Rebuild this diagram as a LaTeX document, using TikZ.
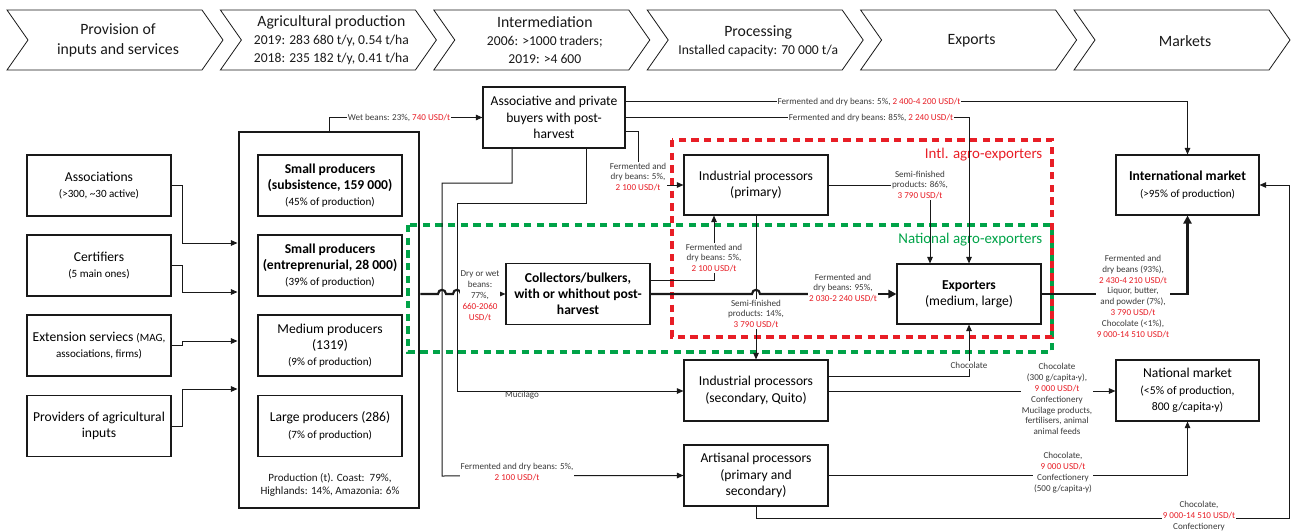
\documentclass[tikz,border=0pt]{standalone}
\usepackage{fontspec}
\setmainfont{Carlito}
\usetikzlibrary{arrows.meta,calc}
\definecolor{lred}{RGB}{232,30,38}
\definecolor{lgreen}{RGB}{0,163,72}
\definecolor{ink}{RGB}{25,25,25}
\newcommand{\subf}{\fontsize{8.3}{10}\selectfont}
\newcommand{\hsubf}{\fontsize{10.2}{13.5}\selectfont}
\newcommand{\rd}[1]{\textcolor{lred}{#1}}
\newcommand{\chevron}[1]{\draw[chev] (#1,10) -- ++(195,0) -- ++(21,30) -- ++(-21,30) -- ++(-195,0) -- ++(21,-30) -- cycle;}
\begin{document}
\begin{tikzpicture}[x=0.75pt,y=-0.75pt,
  box/.style={draw=ink, line width=0.8pt, align=center, minimum width=108pt, minimum height=45.75pt, inner sep=0pt, font=\fontsize{10.2}{12.2}\selectfont},
  bigbox/.style={draw=ink, line width=2.2pt, minimum width=135pt, minimum height=282pt, inner sep=0pt},
  lbl/.style={font=\fontsize{6.8}{8.2}\selectfont, align=center, fill=white, inner sep=0.6pt, text=ink!85},
  arr/.style={draw=ink, line width=0.75pt, -{Triangle[length=5pt,width=4.2pt]}},
  tarr/.style={draw=ink, line width=1.6pt, -{Triangle[length=6pt,width=6pt]}},
  tline/.style={draw=ink, line width=1.6pt},
  chev/.style={draw=ink, line width=0.6pt},
  head/.style={align=center, font=\fontsize{11.8}{15}\selectfont, text=ink},
  reddash/.style={draw=lred, line width=2.8pt, dash pattern=on 5.5pt off 4pt},
  greendash/.style={draw=lgreen, line width=2.8pt, dash pattern=on 5.5pt off 4pt}
]
\useasboundingbox (0,0) rectangle (1291,531);

% header chevrons
\chevron{7}
\chevron{220.4}
\chevron{433.8}
\chevron{647.2}
\chevron{860.6}
\chevron{1074}
\node[head] (h1) at (118,40) {Provision of\\inputs and services};
\node[head, font=\fontsize{11.8}{13.5}\selectfont] (h2) at (331.4,40) {Agricultural production\\{\hsubf 2019: 283 680 t/y, 0.54 t/ha}\\{\hsubf 2018: 235 182 t/y, 0.41 t/ha}};
\node[head, font=\fontsize{11.8}{13.5}\selectfont] (h3) at (544.8,40) {Intermediation\\{\hsubf 2006: >1000 traders;}\\{\hsubf 2019: >4 600}};
\node[head, font=\fontsize{11.8}{13.5}\selectfont] (h4) at (758.2,41) {Processing\\{\hsubf Installed capacity: 70 000 t/a}};
\node[head] (h5) at (971.6,41) {Exports};
\node[head] (h6) at (1185,41) {Markets};

% dashed groups
\draw[greendash] (408,225) rectangle (1052,352);
\draw[reddash] (672,140) rectangle (1052,337);
\node[anchor=east, text=lred, font=\fontsize{11.2}{13}\selectfont] (intllbl) at (1047,155) {Intl. agro-exporters};
\node[anchor=east, text=lgreen, font=\fontsize{11.2}{13}\selectfont] (natlbl) at (1047,240) {National agro-exporters};

% left column
\node[box] (assoc) at (99,185.5) {Associations\\{\subf (>300, \textasciitilde30 active)}};
\node[box] (cert) at (99,265.5) {Certifiers\\{\subf (5 main ones)}};
\node[box] (ext) at (99,345.5) {Extension serviecs {\subf (MAG,}\\{\subf associations, firms)}};
\node[box] (prov) at (99,426) {Providers of agricultural\\inputs};

% producers
\node[bigbox] (big) at (329,320) {};
\node[box] (sp1) at (330,185.5) {\textbf{Small producers}\\\textbf{(subsistence, 159 000)}\\{\subf (45\% of production)}};
\node[box] (sp2) at (330,265.5) {\textbf{Small producers}\\\textbf{(entreprenurial, 28 000)}\\{\subf (39\% of production)}};
\node[box] (med) at (330,345.5) {Medium producers\\(1319)\\{\subf (9\% of production)}};
\node[box] (large) at (330,426) {Large producers (286)\\{\subf (7\% of production)}};
\node[align=center, font=\subf, text=ink] (prodt) at (330,485) {Production (t). Coast:\ \ 79\%,\\Highlands: 14\%, Amazonia: 6\%};

% intermediaries and processors
\node[box, minimum width=106.5pt] (buyers) at (554,117.5) {Associative and private\\buyers with post-\\harvest};
\node[box, font=\fontsize{10.2}{12.2}\selectfont\bfseries] (coll) at (578,294) {Collectors/bulkers,\\with or whithout post-\\harvest};
\node[box, minimum height=45pt] (ipp) at (756,185) {Industrial processors\\(primary)};
\node[box, minimum height=45pt] (exp) at (969,294) {\textbf{Exporters}\\(medium, large)};
\node[box] (isec) at (756,390.5) {Industrial processors\\(secondary, Quito)};
\node[box] (art) at (756,475.5) {Artisanal processors\\(primary and\\secondary)};
\node[box, minimum width=107.25pt, minimum height=45pt] (intl) at (1187.5,185) {\textbf{International market}\\{\subf (>95\% of production)}};
\node[box, minimum width=107.25pt] (nat) at (1187.5,390.5) {National market\\{\fontsize{8.8}{11}\selectfont (<5\% of production,}\\{\fontsize{8.8}{11}\selectfont 800 g/capita·y)}};

% inputs to producers
\draw[arr] (assoc.east) -| (182,243) -- (big.west |- 0,243);
\draw[arr] (cert.east) -| (182,292) -- (big.west |- 0,292);
\draw[arr] (ext.east) -| (182,341) -- (big.west |- 0,341);
\draw[arr] (prov.east) -| (182,389) -- (big.west |- 0,389);

% producers to buyers
\draw[arr] (big.north) |- (buyers.west);
\node[lbl] (l1) at (399,118) {Wet beans: 23\%, \rd{740 USD/t}};

% producers to collectors (with jumps)
\draw[tline] (big.east |- 0,294) -- (438,294) .. controls (438,288.5) and (446,288.5) .. (446,294)
  -- (453,294) .. controls (453,288.5) and (461,288.5) .. (461,294) -- (470,294);
\draw[arr] (470,294) -- (coll.west);
\node[lbl] (l2) at (480,296) {Dry or wet\\beans:\\77\%,\\\rd{660-2060}\\\rd{USD/t}};

% buyers downwards
\draw[arr] (buyers.south -| 512,0) |- (442,183) -- (442,476) -- (art.west);
\node[lbl] (l3) at (517,472) {Fermented and dry beans: 5\%,\\\rd{2 100 USD/t}};
\draw[arr] (buyers.south -| 586,0) |- (457,203) -- (457,391) -- (isec.west |- 0,391);
\node[lbl, fill=none] (l4) at (522,395) {Mucilago};

% buyers rightwards
\draw[arr] (buyers.east |- 0,102) -| (intl.north);
\node[lbl] (l5) at (869,102) {Fermented and dry beans: 5\%, \rd{2 400-4 200 USD/t}};
\draw[arr] (buyers.east |- 0,118) -| (exp.north);
\node[lbl] (l6) at (871,118) {Fermented and dry beans: 85\%, \rd{2 240 USD/t}};
\draw[arr] (buyers.east |- 0,132) -| (638,185) -- (ipp.west);
\node[lbl] (l7) at (638,177) {Fermented and\\dry beans: 5\%,\\\rd{2 100 USD/t}};

% processors primary
\draw[arr] (ipp.east) -| (exp.north -| 930,0);
\node[lbl] (l8) at (920,185) {Semi-finished\\products: 86\%,\\\rd{3 790 USD/t}};
\draw[arr] (ipp.south) -- (isec.north);
\node[lbl] (l9) at (756,314) {Semi-finished\\products: 14\%,\\\rd{3 790 USD/t}};

% collectors
\draw[arr] (coll.east |- 0,280) -| (ipp.south -| 714,0);
\node[lbl] (l10) at (714,258) {Fermented and\\dry beans: 5\%,\\\rd{2 100 USD/t}};
\draw[tline] (coll.east) -- (752,294) .. controls (752,288.5) and (760,288.5) .. (760,294) -- (860,294);
\draw[tarr] (860,294) -- (exp.west);
\node[lbl] (l11) at (843,288) {Fermented and\\dry beans: 95\%,\\\rd{2 030-2 240 USD/t}};

% exporters to international
\draw[tarr] (exp.east) -| (intl.south);
\node[lbl] (l12) at (1133,296.5) {Fermented and\\dry beans (93\%),\\\rd{2 430-4 210 USD/t}\\Liquor, butter,\\and powder (7\%),\\\rd{3 790 USD/t}\\Chocolate (<1\%),\\\rd{9 000-14 510 USD/t}};

% secondary processors
\draw[arr] (isec.east |- 0,376) -| (exp.south);
\node[lbl] (l13) at (969,365) {Chocolate};
\draw[arr] (isec.east |- 0,391) -- (nat.west |- 0,391);
\node[lbl] (l14) at (1057,399) {Chocolate\\(300 g/capita·y),\\\rd{9 000 USD/t}\\Confectionery\\Mucilage products,\\fertilisers, animal\\animal feeds};

% artisanal
\draw[arr] (art.east) -| (nat.south);
\node[lbl] (l15) at (1063,473) {Chocolate,\\\rd{9 000 USD/t}\\Confectionery\\(500 g/capita·y)};
\coordinate (corner) at (1289,518);
\draw[arr] (art.south) |- (corner) |- (intl.east);
\node[lbl] (l16) at (1199,516) {Chocolate,\\\rd{9 000-14 510 USD/t}\\Confectionery};
\end{tikzpicture}
\end{document}
